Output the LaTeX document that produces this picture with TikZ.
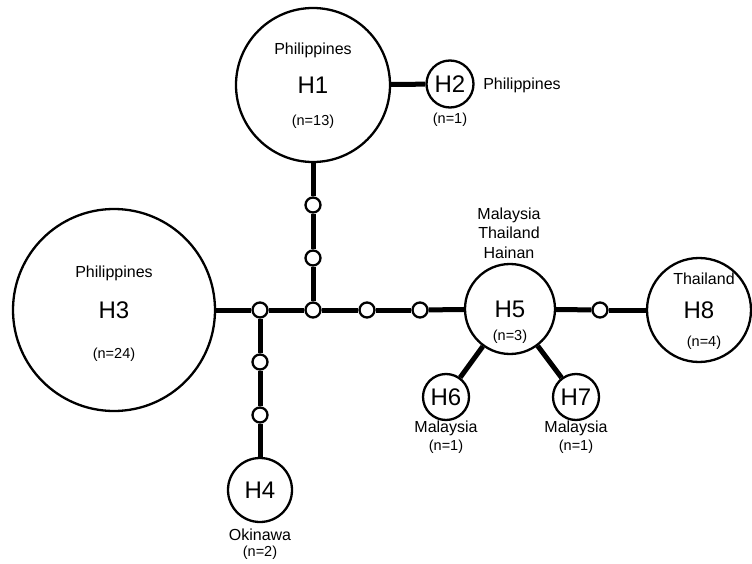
\documentclass[tikz,border=0pt]{standalone}
\usepackage{fontspec}
\setmainfont{Liberation Sans}
\usetikzlibrary{positioning}

\begin{document}
\begin{tikzpicture}[x=1pt,y=-1pt,
  hap/.style={circle,draw,line width=2.3pt,fill=white,inner sep=0pt,font=\fontsize{24}{24}\selectfont},
  median/.style={circle,draw,line width=2.3pt,fill=white,inner sep=0pt,minimum size=15pt},
  edge/.style={line width=5pt},
  place/.style={inner sep=0pt,font=\fontsize{16}{19.5}\selectfont,align=center},
  count/.style={inner sep=0pt,font=\fontsize{14.5}{16}\selectfont}]
  \useasboundingbox (0,0) rectangle (752,564);
  % haplotypes
  \node[hap,minimum size=154pt] (h1) at (313,85) {H1};
  \node[hap,minimum size=47pt] (h2) at (450,84) {H2};
  \node[hap,minimum size=202pt] (h3) at (114,310) {H3};
  \node[hap,minimum size=64pt] (h4) at (260,490) {H4};
  \node[hap,minimum size=90pt] (h5) at (510,309) {H5};
  \node[hap,minimum size=46pt] (h6) at (446,397) {H6};
  \node[hap,minimum size=46pt] (h7) at (576,397) {H7};
  \node[hap,minimum size=104pt] (h8) at (699,310) {H8};
  % missing intermediates
  \node[median] (m1) at (313,205) {};
  \node[median] (m2) at (313,258) {};
  \node[median] (m3) at (313,310) {};
  \node[median] (m4) at (260,310) {};
  \node[median] (m5) at (260,362) {};
  \node[median] (m6) at (260,415) {};
  \node[median] (m7) at (367,310) {};
  \node[median] (m8) at (420,310) {};
  \node[median] (m9) at (600,310) {};
  % mutational steps
  \foreach \a/\b in {h1/h2,h1/m1,m1/m2,m2/m3,h3/m4,m4/m3,m3/m7,m7/m8,m8/h5,
                     m4/m5,m5/m6,m6/h4,h5/m9,m9/h8,h5/h6,h5/h7}
    \draw[edge] (\a) -- (\b);
  % localities and sample sizes
  \node[place] (h1loc) at (313,50) {Philippines};
  \node[count] (h1n) at (313,122) {(n=13)};
  \node[place] (h2loc) at (522,85) {Philippines};
  \node[count] (h2n) at (450,120) {(n=1)};
  \node[place] (h3loc) at (114,273) {Philippines};
  \node[count] (h3n) at (114,355) {(n=24)};
  \node[place] (h4loc) at (260,535) {Okinawa};
  \node[count] (h4n) at (260,553) {(n=2)};
  \node[place] (h5loc) at (509,233) {Malaysia\\Thailand\\Hainan};
  \node[count] (h5n) at (510,337) {(n=3)};
  \node[place] (h6loc) at (446,428) {Malaysia};
  \node[count] (h6n) at (446,447) {(n=1)};
  \node[place] (h7loc) at (576,428) {Malaysia};
  \node[count] (h7n) at (576,447) {(n=1)};
  \node[place] (h8loc) at (704,279) {Thailand};
  \node[count] (h8n) at (704,343) {(n=4)};
\end{tikzpicture}
\end{document}
